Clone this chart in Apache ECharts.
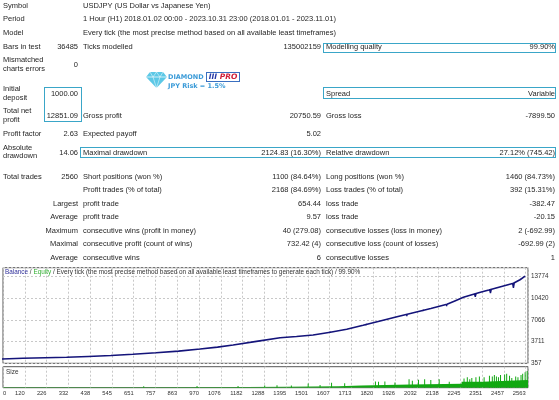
<!DOCTYPE html>
<html>
<head>
<meta charset="UTF-8">
<script src="https://cdn.jsdelivr.net/npm/echarts@6/dist/echarts.min.js"></script>
<style>
html, body { margin: 0; padding: 0; background: #fff; }
#page {
    position: relative;
    width: 559px;
    height: 400px;
    overflow: hidden;
    font-family: "Liberation Sans", Arial, sans-serif;
    font-size: 7.5px;
    color: #262626;
}
#chart { position: absolute; left: 0; top: 0; width: 559px; height: 400px; }
#report { position: absolute; left: 0; top: 0; width: 559px; height: 262px; }
.t { position: absolute; white-space: nowrap; line-height: 8.6px; transform: translateY(-50%); }
.box { position: absolute; border: 1.3px solid #3aa6c8; box-sizing: border-box; }
.logo { position: absolute; white-space: nowrap; font-family: "DejaVu Sans", sans-serif; font-weight: bold; font-size: 6.5px; color: #3b9bd8; line-height: 8px; }
.pro { position: absolute; left: 206px; top: 72px; width: 34px; height: 10px; box-sizing: border-box; border: 1px solid #3a6fc0;
       font-family: "DejaVu Sans", sans-serif; font-weight: bold; font-style: italic; font-size: 7.5px; line-height: 8px; text-align: center; }
</style>
</head>
<body>
<div id="page">
    <div id="chart"></div>
    <div id="report">
        <svg style="position:absolute;left:146px;top:72px" width="21" height="16" viewBox="0 0 21 16">
            <polygon points="4,0 17,0 21,5 10.5,16 0,5" fill="#5cc8e6"/>
            <polyline points="0,5 21,5" stroke="#fff" stroke-width="0.7" fill="none"/>
            <polyline points="4,0 7,5 10.5,16 14,5 17,0" stroke="#fff" stroke-width="0.5" fill="none"/>
            <polyline points="7,5 10.5,0 14,5" stroke="#fff" stroke-width="0.5" fill="none"/>
        </svg>
        <div class="logo" style="left:168px;top:72.5px">DIAMOND</div>
        <div class="pro"><span style="color:#2438a8">III</span> <span style="color:#d0203a">PRO</span></div>
        <div class="logo" style="left:168px;top:81.5px">JPY Risk = 1.5%</div>
    </div>
</div>
<script>
// report table: label | value | label | value | label | value
var reportRows = [
    ['Symbol', '', 'USDJPY (US Dollar vs Japanese Yen)', '', '', ''],
    ['Period', '', '1 Hour (H1) 2018.01.02 00:00 - 2023.10.31 23:00 (2018.01.01 - 2023.11.01)', '', '', ''],
    ['Model', '', 'Every tick (the most precise method based on all available least timeframes)', '', '', ''],
    ['Bars in test', '36485', 'Ticks modelled', '135002159', 'Modelling quality', '99.90%'],
    ['Mismatched<br>charts errors', '0', '', '', '', ''],
    ['Initial<br>deposit', '1000.00', '', '', 'Spread', 'Variable'],
    ['Total net<br>profit', '12851.09', 'Gross profit', '20750.59', 'Gross loss', '-7899.50'],
    ['Profit factor', '2.63', 'Expected payoff', '5.02', '', ''],
    ['Absolute<br>drawdown', '14.06', 'Maximal drawdown', '2124.83 (16.30%)', 'Relative drawdown', '27.12% (745.42)'],
    ['Total trades', '2560', 'Short positions (won %)', '1100 (84.64%)', 'Long positions (won %)', '1460 (84.73%)'],
    ['', '', 'Profit trades (% of total)', '2168 (84.69%)', 'Loss trades (% of total)', '392 (15.31%)'],
    ['', 'Largest', 'profit trade', '654.44', 'loss trade', '-382.47'],
    ['', 'Average', 'profit trade', '9.57', 'loss trade', '-20.15'],
    ['', 'Maximum', 'consecutive wins (profit in money)', '40 (279.08)', 'consecutive losses (loss in money)', '2 (-692.99)'],
    ['', 'Maximal', 'consecutive profit (count of wins)', '732.42 (4)', 'consecutive loss (count of losses)', '-692.99 (2)'],
    ['', 'Average', 'consecutive wins', '6', 'consecutive losses', '1']
];

// chart axes
var xTicks = [120, 226, 332, 438, 545, 651, 757, 863, 970, 1076, 1182, 1288,
              1395, 1501, 1607, 1713, 1820, 1926, 2032, 2138, 2245, 2351, 2457, 2563];
var yTicks = [357, 3711, 7066, 10420, 13774];

// balance by trade number
var balance = [
    [0, 1000], [110, 1150], [220, 1220], [324, 1290], [430, 1420], [540, 1560],
    [647, 1750], [760, 1990], [870, 2250], [975, 2570], [1060, 2860], [1136, 3190],
    [1250, 3750], [1365, 4320], [1445, 4520], [1526, 4740], [1610, 5180], [1690, 5620],
    [1770, 6250], [1853, 6910], [1935, 7560], [2015, 8200], [2100, 8850], [2179, 9500],
    [2220, 10050], [2259, 10580], [2300, 10980], [2342, 11360], [2383, 11700], [2423, 12070],
    [2463, 12420], [2503, 12750], [2535, 13300], [2560, 13851]
];

// equity drops below balance (trade, equity)
var equityDips = [
    [[1605, 5160], [1609, 4980], [1613, 5190]],
    [[1781, 6340], [1785, 6150], [1789, 6380]],
    [[1981, 7930], [1985, 7650], [1989, 7990]],
    [[2059, 8520], [2063, 8300], [2067, 8580]],
    [[2175, 9470], [2179, 9200], [2183, 9530]],
    [[2313, 11110], [2317, 10650], [2321, 11190]],
    [[2387, 11730], [2391, 11250], [2395, 11800]],
    [[2499, 12720], [2503, 12050], [2507, 12780]]
];

// lot size: base level (step) and taller single trades
var sizeBase = [
    [0, 0.008], [700, 0.011], [1200, 0.015], [1400, 0.02], [1650, 0.03], [1760, 0.045],
    [2000, 0.055], [2250, 0.085], [2350, 0.11], [2574, 0.115]
];
var sizeSpikes = [
    [700, 0.02], [960, 0.025], [1160, 0.025], [1290, 0.03], [1350, 0.035], [1420, 0.03],
    [1502, 0.06], [1560, 0.04], [1616, 0.07], [1680, 0.065], [1830, 0.09], [1845, 0.085],
    [1876, 0.09], [1925, 0.075], [1994, 0.12], [2010, 0.1], [2040, 0.115], [2070, 0.12],
    [2100, 0.11], [2141, 0.12], [2190, 0.085], [2262, 0.13], [2278, 0.15], [2290, 0.12],
    [2300, 0.14], [2320, 0.15], [2337, 0.16], [2360, 0.15], [2386, 0.17], [2400, 0.16],
    [2410, 0.18], [2420, 0.16], [2430, 0.15], [2440, 0.18], [2460, 0.19], [2470, 0.2],
    [2484, 0.17], [2495, 0.14], [2514, 0.16], [2525, 0.15], [2540, 0.18], [2548, 0.2],
    [2560, 0.22], [2570, 0.24]
];

// ---- report layout ----
var rowY = [6, 19.3, 33.3, 46.7, 65, 94, 116.3, 134, 152.7, 176.7, 190, 204, 217, 231, 244, 257.7];
var colX = [[3, 'left'], [78, 'right'], [83, 'left'], [321, 'right'], [326, 'left'], [555, 'right']];
var boxes = [[323.3, 42.7, 556, 52.7], [323.3, 87.3, 556, 99.3], [80, 146.7, 556, 157.7], [44, 87.3, 82, 122.3]];

var report = document.getElementById('report');
function addText(html, x, y, align) {
    var d = document.createElement('div');
    d.className = 't';
    d.innerHTML = html;
    d.style.top = y + 'px';
    if (align === 'right') {
        d.style.right = (559 - x) + 'px';
        d.style.textAlign = 'right';
    } else {
        d.style.left = x + 'px';
    }
    report.appendChild(d);
}
reportRows.forEach(function(row, i) {
    row.forEach(function(cell, c) {
        if (cell !== '') addText(cell, colX[c][0], rowY[i], colX[c][1]);
    });
});
boxes.forEach(function(b) {
    var d = document.createElement('div');
    d.className = 'box';
    d.style.left = b[0] + 'px';
    d.style.top = b[1] + 'px';
    d.style.width = (b[2] - b[0]) + 'px';
    d.style.height = (b[3] - b[1]) + 'px';
    report.appendChild(d);
});

// ---- chart ----
var X_STEP = (xTicks[xTicks.length - 1] - xTicks[0]) / (xTicks.length - 1);
var X_MIN = xTicks[0] - X_STEP;
var X_MAX = 2574;
var Y_STEP = (yTicks[yTicks.length - 1] - yTicks[0]) / (yTicks.length - 1);
var Y_MIN = yTicks[0];
var Y_MAX = 15170;
var SIZE_MAX = 0.30;
var uMax = (X_MAX - xTicks[0]) / X_STEP;
var vMax = (Y_MAX - Y_MIN) / Y_STEP;

var equityData = [];
equityDips.forEach(function(seg) {
    seg.forEach(function(p) { equityData.push(p); });
    equityData.push(null);
});

var gridLine = { color: '#c8c8c8', width: 1, type: [2, 2] };
var green = '#12a812';
var navy = '#14147a';

var option = {
    animation: false,
    textStyle: { fontFamily: 'Liberation Sans, Arial, sans-serif' },
    title: [{
        text: '{b|Balance} / {e|Equity} / Every tick (the most precise method based on all available least timeframes to generate each tick) / 99.90%',
        left: 5, top: 269, padding: 0,
        textStyle: {
            fontSize: 6.4, fontWeight: 'normal', color: '#333',
            rich: { b: { color: '#30309a', fontSize: 6.4 }, e: { color: '#33b033', fontSize: 6.4 } }
        }
    }, {
        text: 'Size', left: 6, top: 369, padding: 0,
        textStyle: { fontSize: 6.4, fontWeight: 'normal', color: '#333' }
    }],
    grid: [
        { left: 3, right: 31, top: 267.7, height: 95.6, show: true, borderColor: '#555', borderWidth: 1 },
        { left: 3, right: 31, top: 366.7, height: 21, show: true, borderColor: '#555', borderWidth: 1 }
    ],
    xAxis: [
        { type: 'value', gridIndex: 0, min: X_MIN, max: X_MAX, show: false },
        {
            type: 'value', gridIndex: 0, min: -1, max: uMax, interval: 1, position: 'bottom',
            axisLine: { show: false, onZero: false }, axisTick: { show: false }, axisLabel: { show: false },
            splitLine: { show: true, lineStyle: gridLine }
        },
        { type: 'value', gridIndex: 1, min: X_MIN, max: X_MAX, show: false },
        {
            type: 'value', gridIndex: 1, min: -1, max: uMax, interval: 1, position: 'bottom',
            axisLine: { show: false, onZero: false }, axisTick: { show: false },
            splitLine: { show: true, lineStyle: gridLine },
            axisLabel: {
                fontSize: 5.8, color: '#333', align: 'right', margin: 3,
                formatter: function(v) { return xTicks[v] !== undefined ? String(xTicks[v]) : ''; }
            }
        },
        {
            type: 'value', gridIndex: 1, min: -1, max: uMax, interval: 1, position: 'bottom',
            axisLine: { show: false, onZero: false }, axisTick: { show: false }, splitLine: { show: false },
            axisLabel: {
                fontSize: 5.8, color: '#333', align: 'left', margin: 3, showMinLabel: true,
                formatter: function(v) { return v === -1 ? '0' : ''; }
            }
        }
    ],
    yAxis: [
        { type: 'value', gridIndex: 0, min: Y_MIN, max: Y_MAX, show: false },
        {
            type: 'value', gridIndex: 0, min: 0, max: vMax, interval: 1, position: 'right',
            axisLine: { show: false }, axisTick: { show: false },
            splitLine: { show: true, lineStyle: gridLine },
            axisLabel: {
                fontSize: 6.3, color: '#333', margin: 3,
                formatter: function(v) { return yTicks[v] !== undefined ? String(yTicks[v]) : ''; }
            }
        },
        { type: 'value', gridIndex: 1, min: 0, max: SIZE_MAX, show: false }
    ],
    series: [{
        type: 'line', name: 'Equity', xAxisIndex: 0, yAxisIndex: 0, data: equityData,
        showSymbol: false, connectNulls: false, lineStyle: { color: navy, width: 1.4 }, z: 2
    }, {
        type: 'line', name: 'Balance', xAxisIndex: 0, yAxisIndex: 0, data: balance,
        showSymbol: false, lineStyle: { color: navy, width: 1.6 }, z: 3
    }, {
        type: 'line', name: 'Size', xAxisIndex: 2, yAxisIndex: 2, data: sizeBase, step: 'end',
        showSymbol: false, lineStyle: { width: 0 }, areaStyle: { color: green, opacity: 1 }
    }, {
        type: 'bar', name: 'Size trades', xAxisIndex: 2, yAxisIndex: 2, data: sizeSpikes,
        barWidth: 1, itemStyle: { color: green }
    }]
};

var myChart = echarts.init(document.getElementById('chart'));
myChart.setOption(option);
</script>
</body>
</html>
